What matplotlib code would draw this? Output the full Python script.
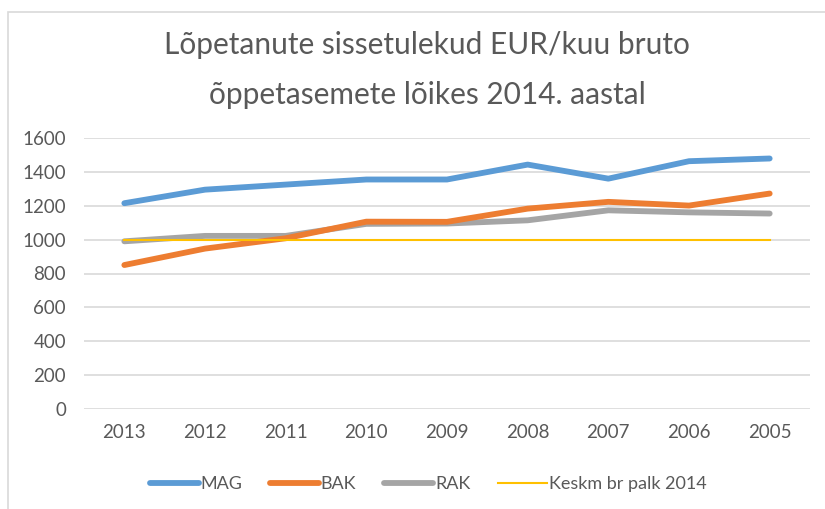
#!/usr/bin/env python3
# Lõpetanute sissetulekud õppetasemete lõikes - joondiagramm.
import matplotlib.pyplot as plt
from matplotlib.patches import Rectangle

years = ["2013", "2012", "2011", "2010", "2009", "2008", "2007", "2006", "2005"]
mag = [1215, 1295, 1325, 1355, 1355, 1443, 1360, 1463, 1479]
bak = [850, 947, 1008, 1106, 1105, 1183, 1223, 1201, 1272]
rak = [990, 1022, 1022, 1093, 1095, 1114, 1173, 1161, 1154]
keskm = [1000] * len(years)

title_lines = ["Lõpetanute sissetulekud EUR/kuu bruto", "õppetasemete lõikes 2014. aastal"]
y_ticks = [0, 200, 400, 600, 800, 1000, 1200, 1400, 1600]

W, H = 825, 509
FONT = ["Lato", "DejaVu Sans"]
TXT = "#595959"

plt.rcParams["font.family"] = FONT

fig = plt.figure(figsize=(W / 100, H / 100), dpi=100)
# Obszar wykresu w pikselach: x 84..810, y 138..409
ax = fig.add_axes([84 / W, 1 - 409 / H, (810 - 84) / W, (409 - 138) / H])

x = list(range(len(years)))
ax.plot(x, mag, color="#5B9BD5", lw=4.2, solid_capstyle="round", label="MAG", zorder=4)
ax.plot(x, bak, color="#ED7D31", lw=4.2, solid_capstyle="round", label="BAK", zorder=3)
ax.plot(x, rak, color="#A5A5A5", lw=4.2, solid_capstyle="round", label="RAK", zorder=2)
ax.plot(x, keskm, color="#FFC000", lw=1.5, label="Keskm br palk 2014", zorder=5)

ax.set_xlim(-0.5, len(years) - 0.5)
ax.set_ylim(0, 1600)
ax.set_xticks(x)
ax.set_xticklabels(years)
ax.set_yticks(y_ticks)
ax.tick_params(axis="both", length=0, colors=TXT, labelsize=13.5)
ax.tick_params(axis="y", pad=13)
ax.tick_params(axis="x", pad=11)
ax.grid(axis="y", color="#D9D9D9", lw=1.2)
ax.set_axisbelow(True)
for s in ax.spines.values():
    s.set_visible(False)

fig.text(0.518, 1 - 45 / H, title_lines[0], ha="center", va="center", fontsize=21.5, color=TXT)
fig.text(0.518, 1 - 95 / H, title_lines[1], ha="center", va="center", fontsize=21.5, color=TXT)

leg = fig.legend(loc="center", bbox_to_anchor=(0.519, 1 - 484 / H), ncol=4, frameon=False,
                 fontsize=13, handlelength=2.7, columnspacing=1.55, handletextpad=0.1)
for t in leg.get_texts():
    t.set_color(TXT)

# Ramka wykresu (widoczna tylko z lewej i od góry)
fig.patches.append(Rectangle((8 / W, -0.1), 1.2, 1.1 - 12 / H, transform=fig.transFigure,
                             fill=False, edgecolor="#D9D9D9", lw=1.2))

fig.savefig("out.png", dpi=100)
